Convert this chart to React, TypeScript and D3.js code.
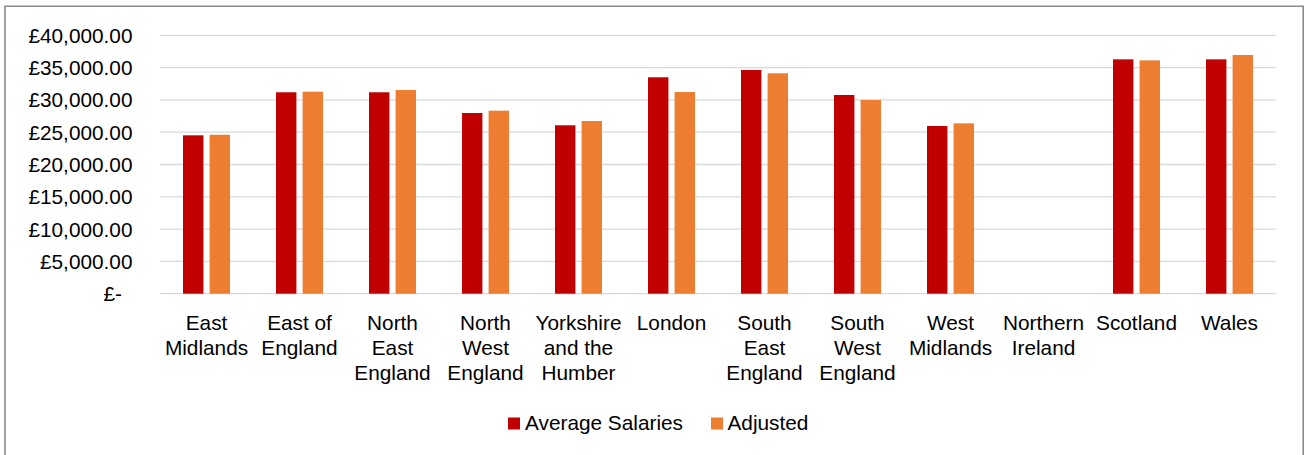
import React from "react";
import * as d3 from "d3";

const categories = [
  "East\nMidlands",
  "East of\nEngland",
  "North\nEast\nEngland",
  "North\nWest\nEngland",
  "Yorkshire\nand the\nHumber",
  "London",
  "South\nEast\nEngland",
  "South\nWest\nEngland",
  "West\nMidlands",
  "Northern\nIreland",
  "Scotland",
  "Wales",
];
const seriesNames = ["Average Salaries", "Adjusted"];
const averageSalaries: (number | null)[] = [24520, 31180, 31180, 27970, 26070, 33500, 34630, 30760, 25960, null, 36280, 36280];
const adjusted: (number | null)[] = [24600, 31270, 31530, 28330, 26730, 31220, 34120, 29980, 26370, null, 36120, 36950];
const yTicks = [0, 5000, 10000, 15000, 20000, 25000, 30000, 35000, 40000];
const colors = ["#C00000", "#ED7D31"];

const fmt = (v: number) => (v === 0 ? "£-" : "£" + d3.format(",.2f")(v));

export default function App() {
  const W = 1306, H = 455;
  const left = 160, right = 1276, top = 35.3, bottom = 293.7;
  const y = d3.scaleLinear().domain([0, 40000]).range([bottom, top]);
  const x0 = d3.scaleBand<string>().domain(categories).range([left, right]).padding(0);
  const groupW = 47;
  const x1 = d3.scaleBand<string>().domain(seriesNames).range([0, groupW]).paddingInner(0.233).paddingOuter(0);
  const series = [averageSalaries, adjusted];
  const font = "'Liberation Sans', Arial, sans-serif";
  const fs = 20.8;

  return (
    <svg width={W} height={H} style={{ position: "absolute", left: 0, top: 0, background: "#fff" }} fontFamily={font}>
      <rect x={0} y={0} width={W} height={H} fill="#fff" />
      {/* chart border */}
      <path d={`M5,${H + 2} V6.2 H1303.2 V${H + 2}`} fill="none" stroke="#898989" strokeWidth={1.6} />
      {yTicks.map((t) => (
        <g key={t}>
          <line x1={left} x2={right} y1={y(t)} y2={y(t)} stroke="#D9D9D9" strokeWidth={1.3} />
          <text
            x={t === 0 ? 122 : 132.5}
            y={y(t)}
            dy="0.36em"
            textAnchor="end"
            fontSize={fs}
            fill="#000"
          >
            {fmt(t)}
          </text>
        </g>
      ))}
      {categories.map((c, i) => {
        const gx = (x0(c) as number) + (x0.bandwidth() - groupW) / 2;
        return (
          <g key={c}>
            {series.map((s, j) => {
              const v = s[i];
              if (v == null) return null;
              return (
                <rect
                  key={j}
                  x={gx + (x1(seriesNames[j]) as number)}
                  y={y(v)}
                  width={x1.bandwidth()}
                  height={y(0) - y(v)}
                  fill={colors[j]}
                />
              );
            })}
            {c.split("\n").map((line, k) => (
              <text
                key={k}
                x={(x0(c) as number) + x0.bandwidth() / 2}
                y={329.5 + k * 25.4}
                textAnchor="middle"
                fontSize={fs}
                fill="#000"
              >
                {line}
              </text>
            ))}
          </g>
        );
      })}
      {/* legend */}
      <rect x={508} y={417.5} width={12} height={12} fill={colors[0]} />
      <text x={525} y={429.5} fontSize={fs} fill="#000">{seriesNames[0]}</text>
      <rect x={711} y={417.5} width={12} height={12} fill={colors[1]} />
      <text x={727.5} y={429.5} fontSize={fs} fill="#000">{seriesNames[1]}</text>
    </svg>
  );
}
